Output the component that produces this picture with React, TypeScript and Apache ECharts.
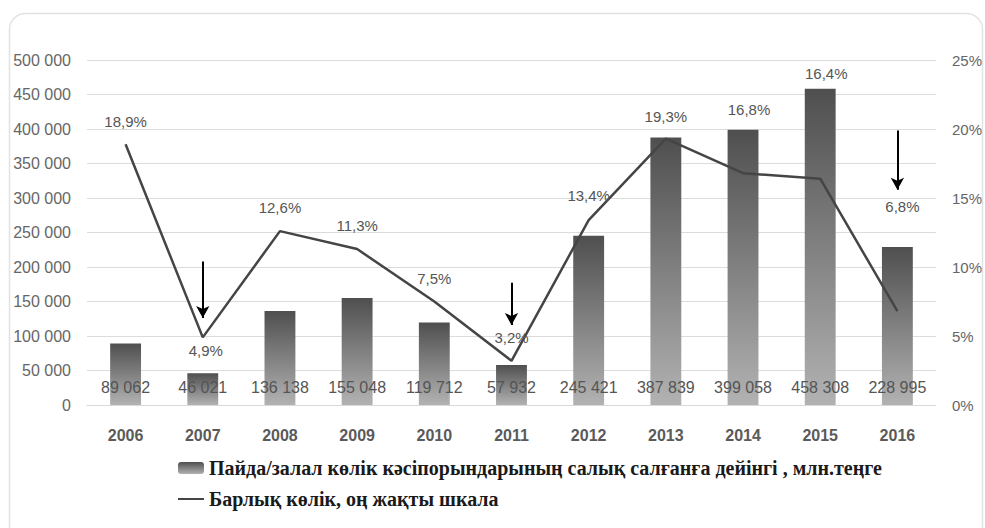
import React, { useEffect, useRef } from "react";
import * as echarts from "echarts";

const years = ["2006", "2007", "2008", "2009", "2010", "2011", "2012", "2013", "2014", "2015", "2016"];
const profitValues = [89062, 46021, 136138, 155048, 119712, 57932, 245421, 387839, 399058, 458308, 228995];
const sharePct = [18.9, 4.9, 12.6, 11.3, 7.5, 3.2, 13.4, 19.3, 16.8, 16.4, 6.8];
const barName = "Пайда/залал көлік кәсіпорындарының салық салғанға дейінгі , млн.теңге";
const lineName = "Барлық көлік, оң жақты шкала";

// annotation arrows (category, from %, to %)
const arrowYears = ["2007", "2011", "2016"];
const arrowFrom = [10.4, 8.85, 19.9];
const arrowTo = [6.3, 5.8, 15.6];

// label placement for percent labels (style only)
const pctLabelPos = ["top", "bottom", "top", "top", "top", "top", "top", "top", "top", "top", "top"];
const pctLabelOffset: number[][] = [
  [0, -9], [3, 0], [0, -10], [0, -10], [0, -10], [0, -10], [0, -11], [0, -9], [6, -50], [6, -92], [5, -91],
];

const fmtThousands = (v: number) => String(v).replace(/\B(?=(\d{3})+(?!\d))/g, " ");

export default function App() {
  const ref = useRef<HTMLDivElement>(null);
  useEffect(() => {
    document.body.style.margin = "0";
    const chart = echarts.init(ref.current!, null, { renderer: "svg" });
    const sans = "Liberation Sans";
    const barGrad = new echarts.graphic.LinearGradient(0, 0, 0, 1, [
      { offset: 0, color: "#4f4f4f" },
      { offset: 1, color: "#b2b2b2" },
    ]);
    chart.setOption({
      animation: false,
      backgroundColor: "#ffffff",
      graphic: [
        {
          type: "rect",
          shape: { x: 9.5, y: 13.5, width: 973, height: 540, r: 16 },
          style: { fill: "none", stroke: "#e2e2e2", lineWidth: 1.5 },
          silent: true,
          z: -10,
        },
      ],
      grid: { left: 87, right: 49, top: 60, bottom: 123, containLabel: false },
      legend: {
        orient: "vertical",
        left: 172,
        top: 453,
        itemGap: 11,
        itemWidth: 26,
        itemHeight: 12,
        data: [barName, lineName],
        textStyle: {
          fontFamily: "Liberation Serif",
          fontWeight: "bold",
          fontSize: 20,
          color: "#1a1a1a",
        },
      },
      xAxis: {
        type: "category",
        data: years,
        axisTick: { show: false },
        axisLine: { show: true, lineStyle: { color: "#d9d9d9", width: 1 } },
        axisLabel: {
          margin: 22,
          fontFamily: sans,
          fontWeight: "bold",
          fontSize: 16,
          color: "#5a5a5a",
        },
      },
      yAxis: [
        {
          type: "value",
          min: 0,
          max: 500000,
          interval: 50000,
          axisLine: { show: false },
          axisTick: { show: false },
          splitLine: { show: true, lineStyle: { color: "#dcdcdc", width: 1 } },
          axisLabel: {
            margin: 16,
            fontFamily: sans,
            fontSize: 16,
            color: "#666666",
            formatter: (v: number) => fmtThousands(v),
          },
        },
        {
          type: "value",
          min: 0,
          max: 25,
          interval: 5,
          axisLine: { show: false },
          axisTick: { show: false },
          splitLine: { show: false },
          axisLabel: {
            margin: 16,
            fontFamily: sans,
            fontSize: 15,
            color: "#666666",
            formatter: (v: number) => v + "%",
          },
        },
      ],
      series: [
        {
          name: barName,
          type: "bar",
          data: profitValues,
          barWidth: "40%",
          itemStyle: { color: barGrad },
          label: {
            show: true,
            position: "insideBottom",
            distance: 10,
            fontFamily: sans,
            fontSize: 16,
            color: "#555555",
            formatter: (p: any) => fmtThousands(p.value),
          },
          z: 2,
        },
        {
          name: lineName,
          type: "line",
          yAxisIndex: 1,
          symbol: "circle",
          symbolSize: 2,
          showSymbol: true,
          data: sharePct.map((v, i) => ({
            value: v,
            label: { position: pctLabelPos[i], offset: pctLabelOffset[i] },
          })),
          lineStyle: { color: "#454545", width: 2.5 },
          itemStyle: { color: "rgba(0,0,0,0)", borderWidth: 0 },
          label: {
            show: true,
            fontFamily: sans,
            fontSize: 15,
            color: "#555555",
            formatter: (p: any) => p.value.toFixed(1).replace(".", ",") + "%",
          },
          markLine: {
            silent: true,
            symbol: ["none", "arrow"],
            symbolSize: [10, 12],
            label: { show: false },
            lineStyle: { color: "#000000", width: 2, type: "solid" },
            data: arrowYears.map((x, i) => [
              { coord: [x, arrowFrom[i]] },
              { coord: [x, arrowTo[i]] },
            ]),
          },
          z: 3,
        },
      ],
    });
    return () => chart.dispose();
  }, []);
  return (
    <div
      ref={ref}
      style={{ position: "fixed", left: 0, top: 0, width: 985, height: 528 }}
    />
  );
}
